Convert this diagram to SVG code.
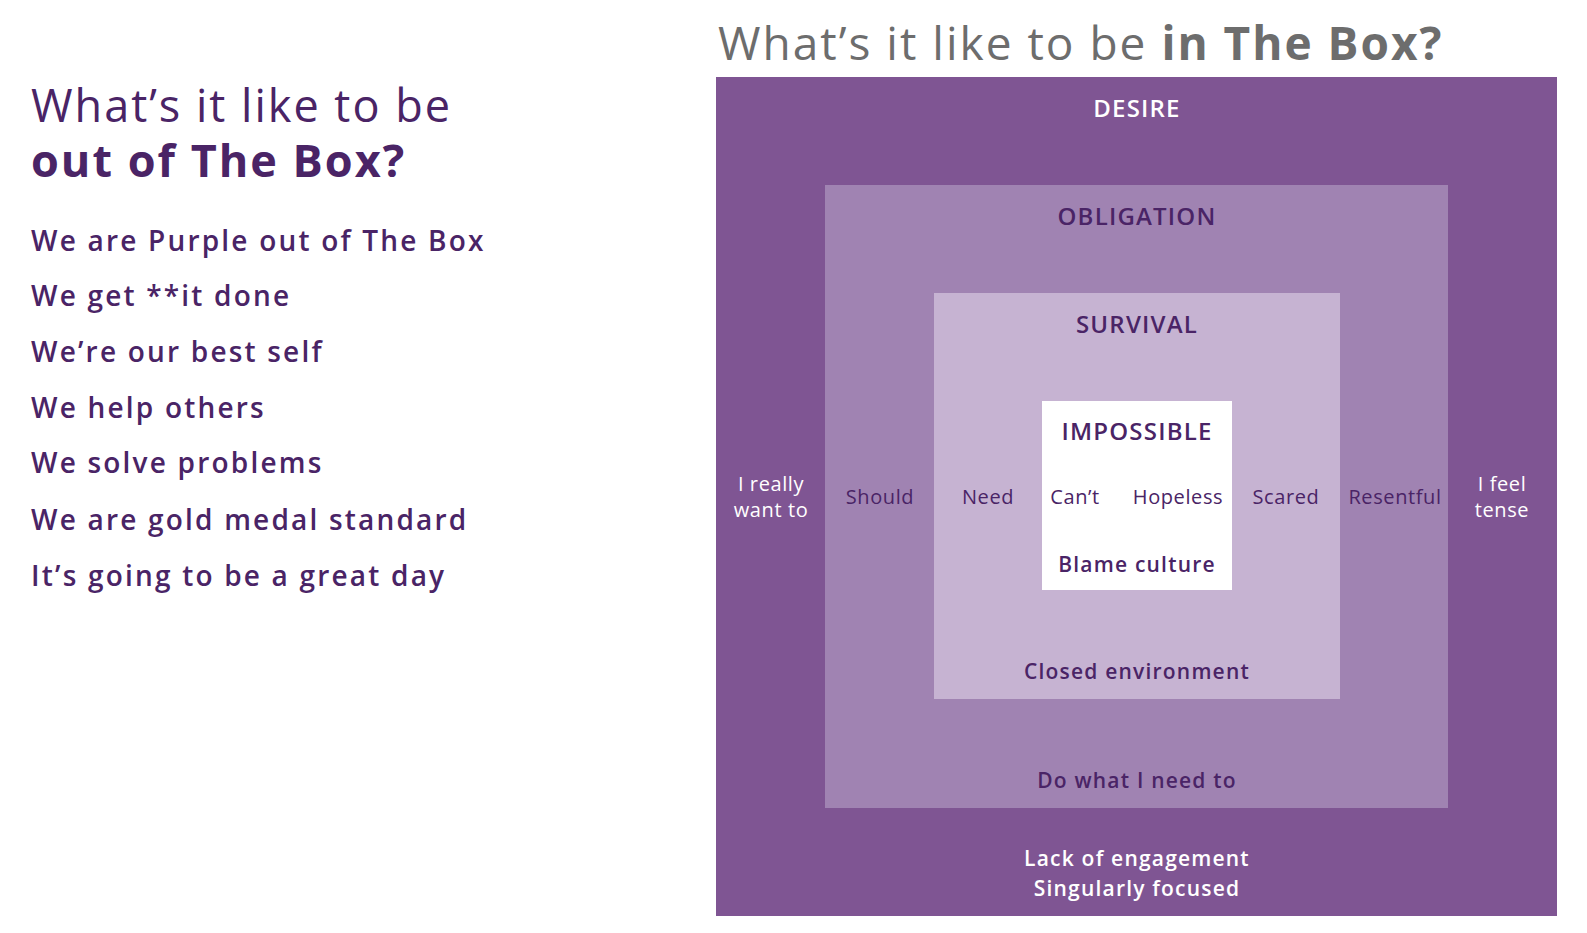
<svg xmlns="http://www.w3.org/2000/svg" width="1587" height="933" viewBox="0 0 1587 933">
<style>
text{font-family:"Open Sans","Liberation Sans",sans-serif}
.l{fill:#4a2466;font-size:28px;font-weight:600;letter-spacing:2.2px}
.h{fill:#4a2466;font-size:45px;letter-spacing:2px}
.lab{font-size:24px;font-weight:600;text-anchor:middle;letter-spacing:1.2px}
.w{font-size:20px;text-anchor:middle;letter-spacing:0.6px}
.b{font-size:21px;font-weight:600;text-anchor:middle;letter-spacing:1.2px}
</style>
<rect width="1587" height="933" fill="#fff"/>
<text x="31" y="122" class="h">What’s it like to be</text>
<text x="31" y="177" class="h" font-weight="700">out of The Box?</text>
<g>
<text x="31" y="251" class="l">We are Purple out of The Box</text>
<text x="31" y="306" class="l">We get **it done</text>
<text x="31" y="362" class="l">We’re our best self</text>
<text x="31" y="418" class="l">We help others</text>
<text x="31" y="473" class="l">We solve problems</text>
<text x="31" y="530" class="l">We are gold medal standard</text>
<text x="31" y="586" class="l">It’s going to be a great day</text>
</g>
<text x="718" y="60" font-size="46" fill="#6d6d6d" letter-spacing="2">What’s it like to be <tspan font-weight="700">in The Box?</tspan></text>
<g id="desire">
<rect x="716" y="77" width="841" height="839" fill="#7f5593"/>
<text x="1137" y="117" class="lab" fill="#fff">DESIRE</text>
<text x="771" y="491" class="w" fill="#fff">I really</text>
<text x="771" y="517" class="w" fill="#fff">want to</text>
<text x="1502" y="491" class="w" fill="#fff">I feel</text>
<text x="1502" y="517" class="w" fill="#fff">tense</text>
<text x="1137" y="866" class="b" fill="#fff">Lack of engagement</text>
<text x="1137" y="896" class="b" fill="#fff">Singularly focused</text>
</g>
<g id="obligation">
<rect x="825" y="185" width="623" height="623" fill="#a083b2"/>
<text x="1137" y="225" class="lab" fill="#4a2466">OBLIGATION</text>
<text x="880" y="504" class="w" fill="#4a2466">Should</text>
<text x="1395" y="504" class="w" fill="#4a2466">Resentful</text>
<text x="1137" y="788" class="b" fill="#4a2466">Do what I need to</text>
</g>
<g id="survival">
<rect x="934" y="293" width="406" height="406" fill="#c6b3d2"/>
<text x="1137" y="333" class="lab" fill="#4a2466">SURVIVAL</text>
<text x="988" y="504" class="w" fill="#4a2466">Need</text>
<text x="1286" y="504" class="w" fill="#4a2466">Scared</text>
<text x="1137" y="679" class="b" fill="#4a2466">Closed environment</text>
</g>
<g id="impossible">
<rect x="1042" y="401" width="190" height="189" fill="#fff"/>
<text x="1137" y="440" class="lab" fill="#4a2466">IMPOSSIBLE</text>
<text x="1075" y="504" class="w" fill="#4a2466">Can’t</text>
<text x="1178" y="504" class="w" fill="#4a2466">Hopeless</text>
<text x="1137" y="572" class="b" fill="#4a2466">Blame culture</text>
</g>
<g id="connectors"/>
</svg>
